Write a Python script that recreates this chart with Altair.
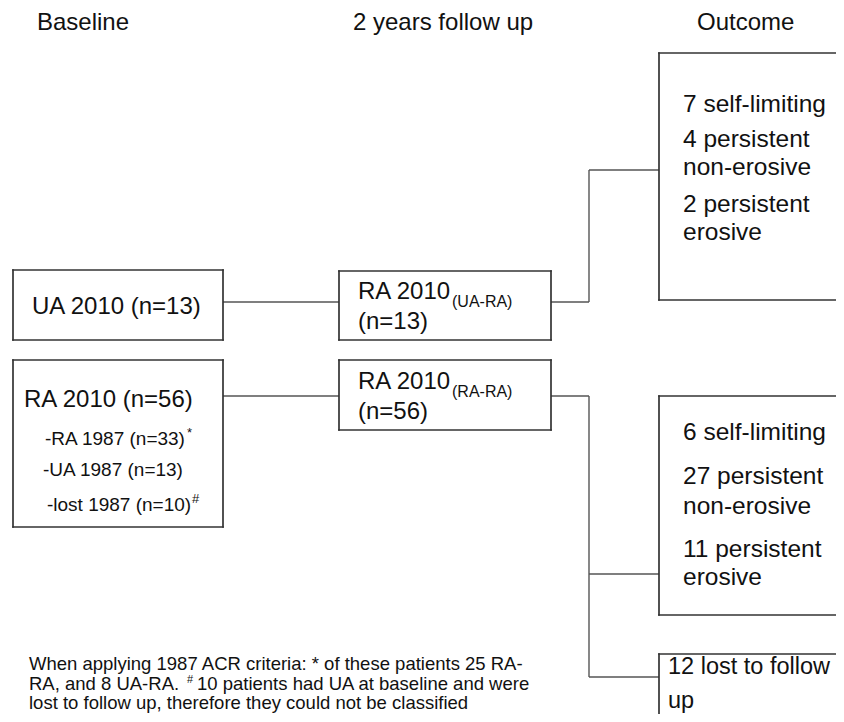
import altair as alt
import pandas as pd

# visible page region covered by the plot area (page has an 8px margin)
X_MIN, X_MAX = 8, 836
Y_MIN, Y_MAX = 8, 714

# ---- boxes (page pixel coordinates; open boxes run off the page) ----
box_x1 = [13, 13, 339, 339, 659, 659, 659]
box_x2 = [223, 223, 551, 551, 900, 900, 900]
box_y1 = [270, 360, 271, 360, 53, 396, 654]
box_y2 = [340, 527, 340, 430, 300, 615, 780]

# ---- connector segments ----
seg_x1 = [223, 223, 551, 589, 589, 551, 589, 589, 589]
seg_x2 = [339, 339, 589, 589, 659, 589, 589, 659, 659]
seg_y1 = [302, 396, 302, 302, 170, 396, 396, 574, 677]
seg_y2 = [302, 396, 302, 170, 170, 396, 677, 574, 677]

# ---- texts ----
labels = [
    "Baseline", "2 years follow up", "Outcome",
    "UA 2010 (n=13)", "RA 2010 (n=56)",
    "RA 2010", "(n=13)", "RA 2010", "(n=56)",
    "(UA-RA)", "(RA-RA)",
    "-RA 1987 (n=33)", "-UA 1987 (n=13)", "-lost 1987 (n=10)",
    "*", "#",
    "7 self-limiting", "4 persistent", "non-erosive", "2 persistent", "erosive",
    "6 self-limiting", "27 persistent", "non-erosive", "11 persistent", "erosive",
    "12 lost to follow", "up",
    "When applying 1987 ACR criteria: * of these patients 25 RA-",
    "RA, and 8 UA-RA.", "#", "10 patients had UA at baseline and were",
    "lost to follow up, therefore they could not be classified",
]
label_x = [
    37, 353, 697,
    32, 24,
    358, 358, 358, 358,
    452, 452,
    45, 43, 47,
    187, 192,
    683, 683, 683, 683, 683,
    683, 683, 683, 683, 683,
    668, 668,
    29,
    29, 187, 197,
    29,
]
label_y = [
    23, 23, 23,
    307, 400,
    292, 322, 382, 412,
    302, 392,
    439, 470, 505,
    433, 499,
    105, 140, 168, 205, 233,
    433, 477, 507, 550, 578,
    667, 701,
    664,
    684, 680, 684,
    703,
]
label_size = [
    24, 24, 24,
    24, 24,
    24, 24, 24, 24,
    16, 16,
    19, 19, 19,
    13, 13,
    24.5, 24.5, 24.5, 24.5, 24.5,
    24.5, 24.5, 24.5, 24.5, 24.5,
    23.5, 23.5,
    18.5,
    18.5, 11, 18.5,
    18.5,
]

# box outlines as edge segments, cut at the visible page edge
edges = []
for x1, x2, y1, y2 in zip(box_x1, box_x2, box_y1, box_y2):
    xe = min(x2, X_MAX)
    ye = min(y2, Y_MAX)
    edges.append((x1, xe, y1, y1))          # top
    edges.append((x1, x1, y1, ye))          # left
    if y2 <= Y_MAX:
        edges.append((x1, xe, y2, y2))      # bottom
    if x2 <= X_MAX:
        edges.append((x2, x2, y1, ye))      # right
box_edges = pd.DataFrame(edges, columns=["x1", "x2", "y1", "y2"])

segs = pd.DataFrame({"x1": seg_x1, "x2": seg_x2, "y1": seg_y1, "y2": seg_y2})
texts = pd.DataFrame({"label": labels, "x": label_x, "y": label_y, "size": label_size})

xs = alt.Scale(domain=[X_MIN, X_MAX], nice=False, zero=False)
ys = alt.Scale(domain=[Y_MIN, Y_MAX], nice=False, zero=False, reverse=True)

rules = alt.Chart(segs).mark_rule(
    color="#555555", strokeWidth=1.4
).encode(
    x=alt.X("x1:Q", scale=xs, axis=None),
    x2="x2:Q",
    y=alt.Y("y1:Q", scale=ys, axis=None),
    y2="y2:Q",
)

outline = alt.Chart(box_edges).mark_rule(
    color="#333333", strokeWidth=1.7, strokeCap="square"
).encode(
    x=alt.X("x1:Q", scale=xs, axis=None),
    x2="x2:Q",
    y=alt.Y("y1:Q", scale=ys, axis=None),
    y2="y2:Q",
)

txt = alt.Chart(texts).mark_text(
    align="left", baseline="middle", font="Liberation Sans", color="#111111"
).encode(
    x=alt.X("x:Q", scale=xs, axis=None),
    y=alt.Y("y:Q", scale=ys, axis=None),
    text="label:N",
    size=alt.Size("size:Q", scale=None, legend=None),
)

chart = alt.layer(rules, outline, txt).properties(
    width=X_MAX - X_MIN, height=Y_MAX - Y_MIN, padding=0,
    autosize=alt.AutoSizeParams(type="none"),
).configure_view(stroke=None)

chart.save("out.html", embed_options={"renderer": "svg", "actions": False})
